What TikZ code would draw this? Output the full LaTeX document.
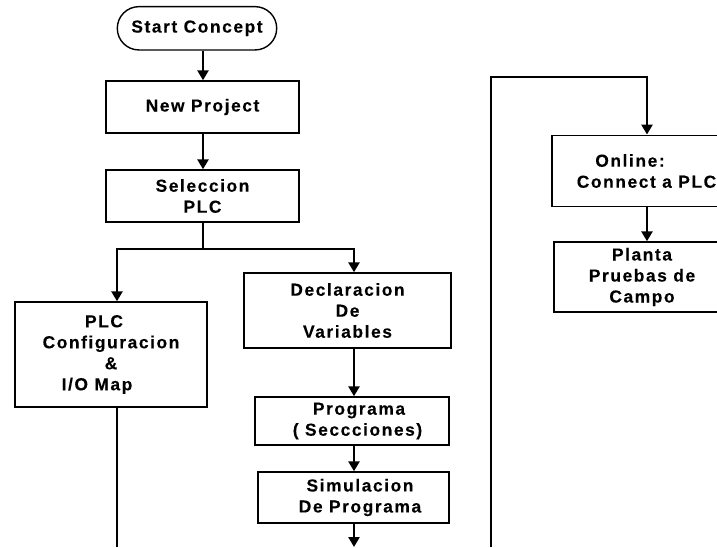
\documentclass[tikz,border=0pt]{standalone}
\usepackage{fontspec}
\setmainfont{Liberation Sans}[LetterSpace=9, BoldFeatures={FakeBold=0.2}]
\usetikzlibrary{arrows.meta,calc}
\begin{document}
\begin{tikzpicture}[x=1pt,y=-1pt,
  box/.style={draw, line width=1.4pt, inner sep=0pt, align=center,
    font=\fontsize{17.4}{21}\selectfont\bfseries},
  conn/.style={line width=2.8pt},
  arr/.style={line width=2.8pt, -{Triangle[width=11pt,length=10pt]}}]
\useasboundingbox (0,0) rectangle (717,547);
\clip (0,0) rectangle (717,547);

% column coordinates
\coordinate (colA) at (117,0);
\coordinate (colM) at (203,0);
\coordinate (colB) at (354,0);
\coordinate (colC) at (647,0);

% nodes
\node[box, rounded corners=21.6pt, minimum width=159.4pt, minimum height=43.3pt] (start) at (197,28.3) {Start Concept};
\node[box, minimum width=193pt, minimum height=52pt] (newp) at (202.5,107) {New Project};
\node[box, minimum width=193pt, minimum height=52pt] (sel) at (202.5,196) {Seleccion\\PLC};
\node[box, minimum width=192pt, minimum height=105pt] (plc) at (111,354.5)
  {PLC\hspace*{14pt}\\Configuracion\\\&\hspace*{15pt}\\I/O Map\hspace*{28pt}};
\node[box, minimum width=207pt, minimum height=75pt] (decl) at (347.5,310.5) {Declaracion\\De\\Variables};
\node[box, minimum width=194pt, minimum height=48pt] (prog) at (352,421)
  {\hspace*{14pt}Programa\\\hspace*{11pt}( Seccciones)};
\node[box, minimum width=191pt, minimum height=51pt] (sim) at (353.5,497.5)
  {\hspace*{13pt}Simulacion\\\hspace*{13pt}De Programa};
\node[box, minimum width=189pt, minimum height=71.5pt] (online) at (646.5,171)
  {Online:\hspace*{33pt}\\Connect a PLC};
\node[box, minimum width=176pt, minimum height=70pt] (planta) at (642,277)
  {Planta\\Pruebas de\\Campo};

% free ends
\coordinate (fork) at (203,249);
\coordinate (plcend) at (117,547);
\coordinate (simend) at (354,547);
\coordinate (loopbot) at (491,547);
\coordinate (looptop) at (491,77);

% connectors
\draw[arr] (start.south -| colM) -- (newp.north -| colM);
\draw[arr] (newp.south -| colM) -- (sel.north -| colM);
\draw[conn] (sel.south -| colM) -- (fork);
\draw[arr] (fork) -| (plc.north -| colA);
\draw[arr] (fork) -| (decl.north -| colB);
\draw[conn] (plc.south -| colA) -- (plcend);
\draw[arr] (decl.south -| colB) -- (prog.north -| colB);
\draw[arr] (prog.south -| colB) -- (sim.north -| colB);
\draw[arr] (sim.south -| colB) -- (simend);
\draw[arr] (loopbot) -- (looptop) -| (online.north -| colC);
\draw[arr] (online.south -| colC) -- (planta.north -| colC);
\end{tikzpicture}
\end{document}
